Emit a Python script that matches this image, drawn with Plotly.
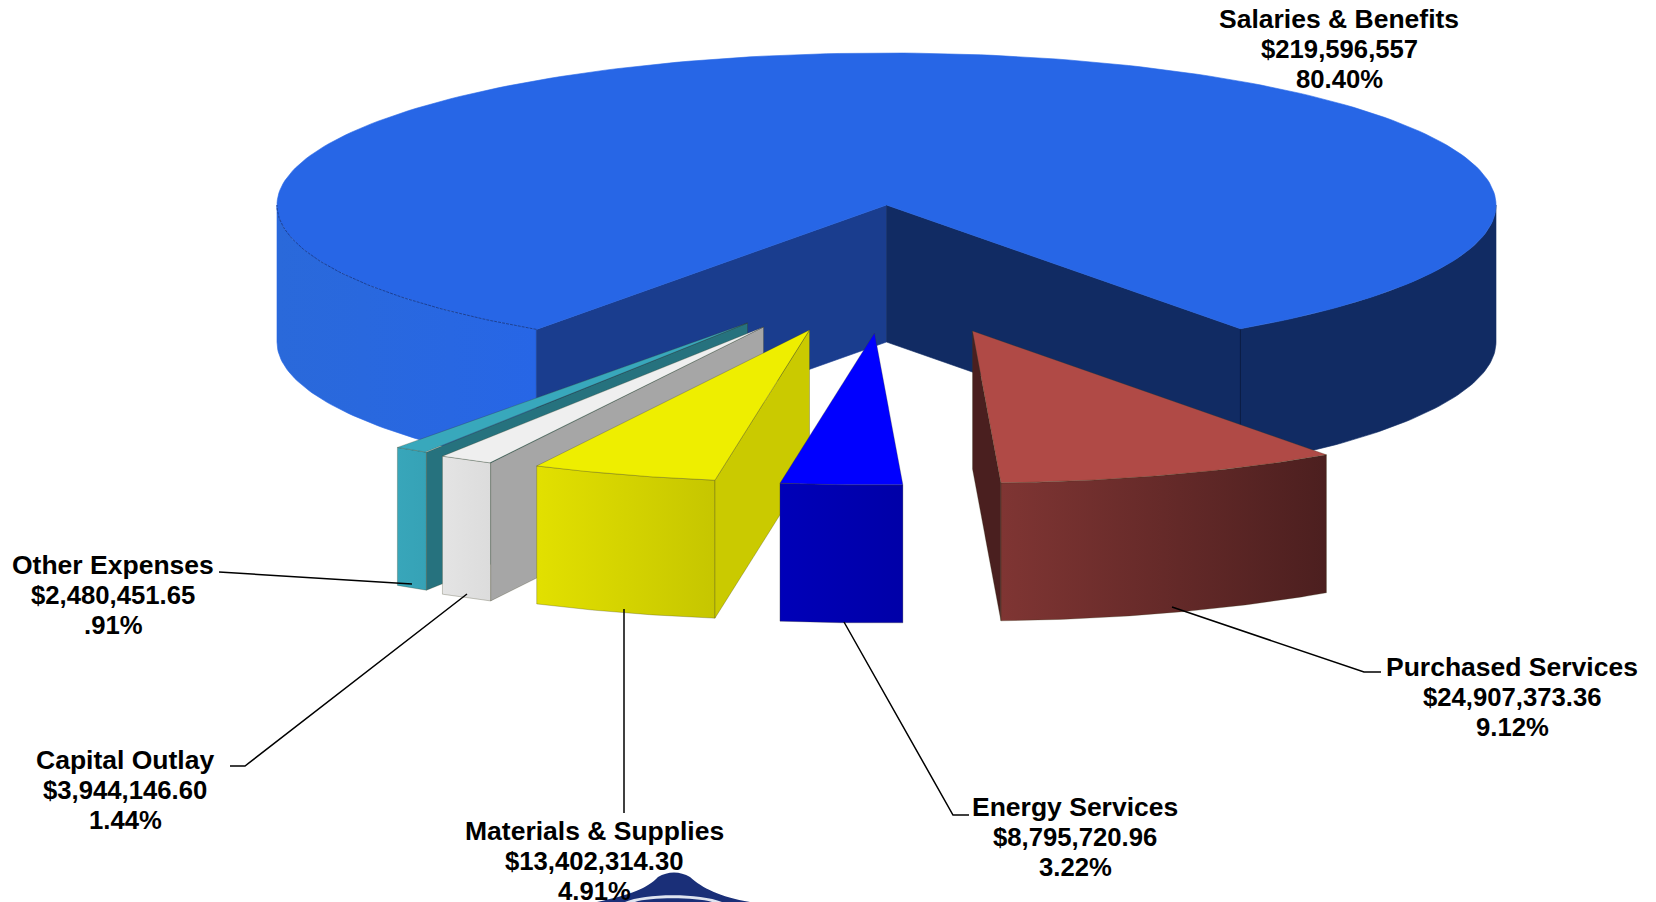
import numpy as np
import plotly.graph_objects as go

# ---------- data ----------
categories = ["Purchased Services", "Energy Services", "Materials & Supplies", "Capital Outlay", "Other Expenses"]
values = [24907373.36, 8795720.96, 13402314.30, 3944146.60, 2480451.65]
amount_labels = ["$24,907,373.36", "$8,795,720.96", "$13,402,314.30", "$3,944,146.60", "$2,480,451.65"]
pct_labels = ["9.12%", "3.22%", "4.91%", "1.44%", ".91%"]
main_category = "Salaries & Benefits"
main_value = 219596557
main_amount_label = "$219,596,557"
main_pct_label = "80.40%"

# ---------- style ----------
top_colors = ["#b04a46", "#0000ff", "#eeee00", "#efefef", "#38a8bc"]
cut_colors = ["#4a1f1f", "#0000b0", "#caca00", "#a6a6a6", "#26727e"]
rim_grad = [("#7f3533", "#4c1f1f"), ("#0000b8", "#0000a8"), ("#e2e000", "#c6c600"),
            ("#e4e4e4", "#dcdcdc"), ("#38a6ba", "#36a2b6")]
explode_dx = [86, -12, -77, -123, -139]
explode_dy = [126, 128, 125, 122, 118]
CX, CY, RX, RY, DEPTH, SLICE_DEPTH = 886.5, 205, 609.5, 152, 137, 138
START = 54.5

# label layout: centre x, first row y
label_x = [1512, 1075, 594, 125, 113]
label_y = [667, 807, 831, 760, 565]
main_label_x, main_label_y = 1339, 19
ROW = 30
leaders = [
    ([1381, 1364, 1172], [672, 672, 607]),
    ([969, 953, 844], [815, 815, 622]),
    ([624, 624], [813, 609]),
    ([230, 245, 467], [766, 766, 594]),
    ([219, 412], [572, 584]),
]

total = main_value + sum(values)
edges = START + np.concatenate([[0], np.cumsum(values)]) / total * 360.0
fig = go.Figure()


def arc(a0, a1, cx, cy, rx, ry, n=60):
    t = np.radians(np.linspace(a0, a1, n))
    return cx + rx * np.cos(t), cy + ry * np.sin(t)


def poly(x, y, fill, line=None, lw=0.6, grad=None):
    x = list(x) + [x[0]]
    y = list(y) + [y[0]]
    kw = dict(x=x, y=y, mode="lines", fill="toself", hoverinfo="skip", showlegend=False,
              line=dict(color=line or fill, width=lw))
    if grad:
        kw["fillgradient"] = dict(type="horizontal", colorscale=[[0, grad[0]], [1, grad[1]]])
    else:
        kw["fillcolor"] = fill
    fig.add_trace(go.Scatter(**kw))


def stroke(x, y, color, width=1.0, dash="solid"):
    fig.add_trace(go.Scatter(x=x, y=y, mode="lines", line=dict(color=color, width=width, dash=dash),
                             hoverinfo="skip", showlegend=False))


# main pie
a_end = edges[-1]
xl, yl = arc(a_end, 180, CX, CY, RX, RY)
xb, yb = arc(180, a_end, CX, CY + DEPTH, RX, RY)
poly(list(xl) + list(xb), list(yl) + list(yb), "#2766e6", grad=("#2a69da", "#2766e6"))
xr, yr = arc(0, START, CX, CY, RX, RY)
xb, yb = arc(START, 0, CX, CY + DEPTH, RX, RY)
poly(list(xr) + list(xb), list(yr) + list(yb), "#112b63")

ex0, ey0 = arc(a_end, a_end, CX, CY, RX, RY, 1)
poly([CX, ex0[0], ex0[0], CX], [CY, ey0[0], ey0[0] + DEPTH, CY + DEPTH], "#1a3d8e")
sx0, sy0 = arc(START, START, CX, CY, RX, RY, 1)
poly([CX, sx0[0], sx0[0], CX], [CY, sy0[0], sy0[0] + DEPTH, CY + DEPTH], "#112b63")
stroke([sx0[0], sx0[0]], [sy0[0], sy0[0] + DEPTH], "#0b1c44")
xt, yt = arc(a_end, 360 + START, CX, CY, RX, RY, 240)
poly([CX] + list(xt), [CY] + list(yt), "#2766e6")
stroke(list(xl), list(yl), "rgba(15,35,90,0.75)", 0.8, "3px,1px")

# exploded slices, back to front
for i in [4, 3, 2, 1, 0]:
    a0, a1 = edges[i], edges[i + 1]
    ax, ay = CX + explode_dx[i], CY + explode_dy[i]
    xa, ya = arc(a0, a1, ax, ay, RX, RY)
    edge = "rgba(60,60,30,0.55)"
    poly(list(xa) + list(xa[::-1]), list(ya) + list(ya[::-1] + SLICE_DEPTH), rim_grad[i][0],
         line=edge, lw=0.5, grad=rim_grad[i])
    if a0 > 90:
        poly([ax, xa[0], xa[0], ax], [ay, ya[0], ya[0] + SLICE_DEPTH, ay + SLICE_DEPTH], cut_colors[i], line=edge, lw=0.5)
    if a1 < 90:
        poly([ax, xa[-1], xa[-1], ax], [ay, ya[-1], ya[-1] + SLICE_DEPTH, ay + SLICE_DEPTH], cut_colors[i], line=edge, lw=0.5)
    poly([ax] + list(xa), [ay] + list(ya), top_colors[i], line=edge, lw=0.5)

# leader lines
for lx, ly in leaders:
    stroke(lx, ly, "black", 1.5)


# labels
def add_label(x, y, rows):
    for k, row in enumerate(rows):
        fig.add_annotation(x=x, y=y + k * ROW, text="<b>%s</b>" % row.replace("&", "&amp;"), showarrow=False,
                           xanchor="center", yanchor="middle",
                           font=dict(family="Liberation Sans", size=26.5 if k == 0 else 25.7, color="black"))


add_label(main_label_x, main_label_y, [main_category, main_amount_label, main_pct_label])
for i in range(len(categories)):
    add_label(label_x[i], label_y[i], [categories[i], amount_labels[i], pct_labels[i]])

# emblem peeking in at the bottom edge
shapes = [
    dict(type="path", layer="below", xref="x", yref="y",
         path="M 597 902 C 630 895 648 888 658 877 C 668 871 680 871 690 877 C 702 888 720 897 750 902 Z",
         fillcolor="#1a2f78", line=dict(width=0)),
    dict(type="path", layer="below", xref="x", yref="y",
         path="M 625 902 C 645 893 700 893 722 902 L 712 902 C 695 897 650 897 635 902 Z",
         fillcolor="#dfe4f0", line=dict(width=0)),
]

fig.update_layout(
    width=1656, height=902, margin=dict(l=0, r=0, t=0, b=0),
    paper_bgcolor="white", plot_bgcolor="white", showlegend=False, shapes=shapes,
    xaxis=dict(range=[0, 1656], visible=False, fixedrange=True),
    yaxis=dict(range=[902, 0], visible=False, fixedrange=True),
)
fig.write_html("out.html", config={"displayModeBar": False},
               post_script="document.body.style.margin='0';document.body.style.overflow='hidden';")
